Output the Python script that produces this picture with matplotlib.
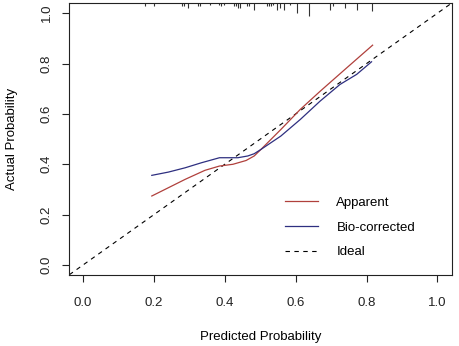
import numpy as np
import matplotlib.pyplot as plt

plt.rcParams['font.family'] = ['Liberation Sans', 'DejaVu Sans']

# Apparent calibration curve
app_x = [0.194, 0.288, 0.344, 0.385, 0.423, 0.460, 0.483, 0.502, 0.558, 0.613, 0.669, 0.744, 0.817]
app_y = [0.274, 0.340, 0.376, 0.393, 0.400, 0.415, 0.433, 0.459, 0.538, 0.618, 0.690, 0.783, 0.873]

# Bias-corrected calibration curve
bc_x = [0.194, 0.241, 0.288, 0.334, 0.385, 0.409, 0.437, 0.465, 0.483, 0.502, 0.558, 0.613,
        0.669, 0.725, 0.772, 0.814]
bc_y = [0.356, 0.369, 0.386, 0.406, 0.426, 0.426, 0.426, 0.433, 0.442, 0.459, 0.512, 0.578,
        0.651, 0.717, 0.757, 0.807]

# distribution of predicted probabilities (rug at top)
rug_x = [0.176, 0.201, 0.278, 0.286, 0.295, 0.323, 0.330, 0.358, 0.385, 0.390, 0.397,
         0.427, 0.432, 0.437, 0.444, 0.463, 0.469, 0.483, 0.520, 0.525, 0.530, 0.535,
         0.546, 0.556, 0.567, 0.585, 0.604, 0.637, 0.697, 0.704, 0.739, 0.772, 0.816]
rug_n = [2, 2, 2, 2, 3, 2, 2, 1, 1, 2, 1, 2, 2, 3, 3, 2, 2, 4, 2, 2, 2, 1,
         4, 3, 4, 1, 6, 8, 4, 2, 3, 4, 5]

ticks = [0.0, 0.2, 0.4, 0.6, 0.8, 1.0]

fig = plt.figure(figsize=(4.59, 3.46), dpi=100)
ax = fig.add_axes([0.150, 0.205, 0.834, 0.786])

ax.set_xlim(-0.04, 1.04)
ax.set_ylim(-0.04, 1.04)

ax.plot([-0.1, 1.1], [-0.1, 1.1], color='black', lw=0.8, ls=(0, (4, 4)), label='Ideal')
ax.plot(app_x, app_y, color='#B0403C', lw=0.9, label='Apparent')
ax.plot(bc_x, bc_y, color='#2E2F80', lw=0.9, label='Bio-corrected')

top = 1.04
unit = 0.0066
ax.vlines(rug_x, [top - n * unit for n in rug_n], top, color='#333333', lw=0.8)

handles, labels = ax.get_legend_handles_labels()
order = [1, 2, 0]
ax.legend([handles[i] for i in order], [labels[i] for i in order],
          loc='upper left', bbox_to_anchor=(0.595, 0.466), bbox_transform=fig.transFigure,
          frameon=False, fontsize=9.5, handlelength=2.5, handletextpad=1.4,
          labelspacing=0.95)

ax.set_xticks(ticks)
ax.set_yticks(ticks)
ax.set_xticklabels([f'{t:.1f}' for t in ticks])
ax.set_yticklabels([f'{t:.1f}' for t in ticks], rotation=90, va='center')
ax.tick_params(direction='out', length=5, width=0.8, labelsize=9.5, colors='#222222')
ax.tick_params(axis='x', pad=11)
ax.tick_params(axis='y', pad=6.5)
for s in ax.spines.values():
    s.set_linewidth(0.8)
    s.set_color('#222222')

ax.set_xlabel('Predicted Probability', fontsize=9.5, labelpad=15.5)
ax.set_ylabel('Actual Probability', fontsize=9.5, labelpad=16.5)

fig.savefig('out.png', dpi=100)
